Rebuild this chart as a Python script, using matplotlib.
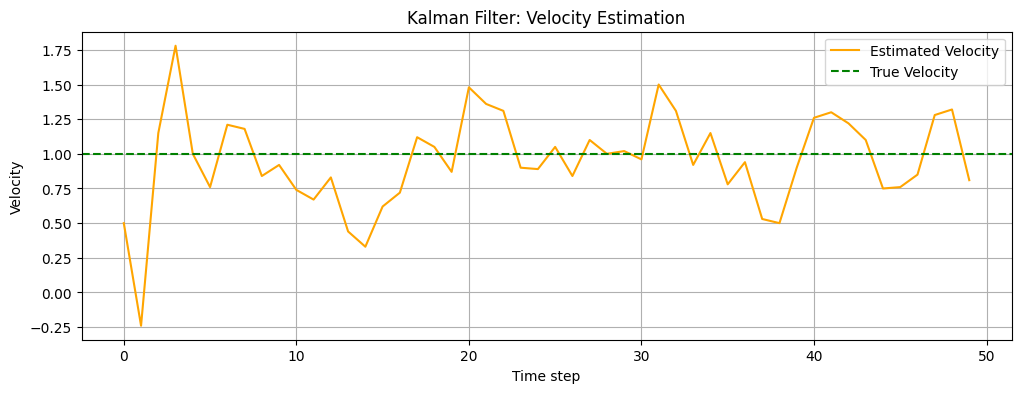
import matplotlib
matplotlib.use("Agg")
import matplotlib.pyplot as plt
import numpy as np

time_steps = list(range(50))
estimated_velocity = [0.50, -0.24, 1.15, 1.78, 1.00, 0.76, 1.21, 1.18, 0.84, 0.92,
                      0.74, 0.67, 0.83, 0.44, 0.33, 0.62, 0.72, 1.12, 1.05, 0.87,
                      1.48, 1.36, 1.31, 0.90, 0.89, 1.05, 0.84, 1.10, 1.00, 1.02,
                      0.96, 1.50, 1.31, 0.92, 1.15, 0.78, 0.94, 0.53, 0.50, 0.90,
                      1.26, 1.30, 1.22, 1.10, 0.75, 0.76, 0.85, 1.28, 1.32, 0.81]
true_velocity = 1.0

fig, ax = plt.subplots(figsize=(12, 4))
ax.plot(time_steps, estimated_velocity, color='orange', label='Estimated Velocity')
ax.axhline(true_velocity, color='green', linestyle='--', label='True Velocity')
ax.set_title('Kalman Filter: Velocity Estimation')
ax.set_xlabel('Time step')
ax.set_ylabel('Velocity')
ax.legend()
ax.grid(True)
fig.savefig('out.png', dpi=100, bbox_inches='tight')
